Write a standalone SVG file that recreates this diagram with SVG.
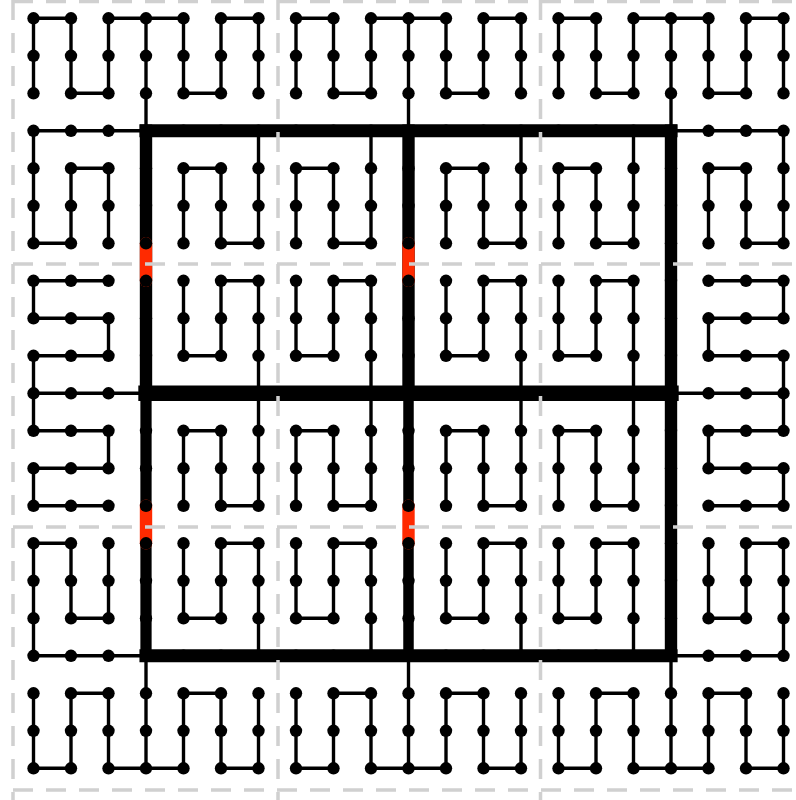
<svg xmlns="http://www.w3.org/2000/svg" width="796" height="800" viewBox="0 0 796 800">
<style>
.thick line{stroke:#000;fill:none;stroke-linecap:square}
.red line{stroke:#ff2a00;stroke-width:.33;stroke-linecap:round}
.thin polyline{fill:none;stroke:#000;stroke-width:.09;stroke-linejoin:round;stroke-linecap:round}
.nodes circle{fill:#000}
.grid line{stroke:#d0d0d0;stroke-width:3.5;stroke-dasharray:20 13}
</style>
<rect width="796" height="800" fill="#fff"/>
<g transform="translate(33.5,18.3) scale(37.5)">
<g id="connectors">
<g class="thick">
<line x1="3" y1="3" x2="17" y2="3" stroke-width=".35"/>
<line x1="3" y1="17" x2="17" y2="17" stroke-width=".35"/>
<line x1="3" y1="10" x2="17" y2="10" stroke-width=".41"/>
<line x1="17" y1="3" x2="17" y2="17" stroke-width=".33"/>
<line x1="3" y1="3" x2="3" y2="10" stroke-width=".33"/>
<line x1="3" y1="10" x2="3" y2="17" stroke-width=".3"/>
<line x1="10" y1="3" x2="10" y2="10" stroke-width=".33"/>
<line x1="10" y1="10" x2="10" y2="17" stroke-width=".28"/>
</g>
<g class="red">
<line x1="3" y1="6" x2="3" y2="7"/>
<line x1="3" y1="13" x2="3" y2="14"/>
<line x1="10" y1="6" x2="10" y2="7"/>
<line x1="10" y1="13" x2="10" y2="14"/>
</g>
<g class="thin">
<polyline points="0,2 0,0 1,0 1,2 2,2 2,0 4,0 4,2 5,2 5,0 6,0 6,2"/>
<polyline points="3,0 3,3"/>
<polyline points="3,3 0,3 0,6 1,6 1,4 2,4 2,6"/>
<polyline points="6,3 6,6 5,6 5,4 4,4 4,6"/>
<polyline points="7,2 7,0 8,0 8,2 9,2 9,0 11,0 11,2 12,2 12,0 13,0 13,2"/>
<polyline points="10,0 10,3"/>
<polyline points="9,3 9,6 8,6 8,4 7,4 7,6"/>
<polyline points="13,3 13,6 12,6 12,4 11,4 11,6"/>
<polyline points="14,2 14,0 15,0 15,2 16,2 16,0 18,0 18,2 19,2 19,0 20,0 20,2"/>
<polyline points="17,0 17,3"/>
<polyline points="17,3 20,3 20,6 19,6 19,4 18,4 18,6"/>
<polyline points="16,3 16,6 15,6 15,4 14,4 14,6"/>
<polyline points="2,7 0,7 0,8 2,8 2,9 0,9 0,11 2,11 2,12 0,12 0,13 2,13"/>
<polyline points="0,10 3,10"/>
<polyline points="4,7 4,9 5,9 5,7 6,7 6,13 5,13 5,11 4,11 4,13"/>
<polyline points="7,7 7,9 8,9 8,7 9,7 9,13 8,13 8,11 7,11 7,13"/>
<polyline points="11,7 11,9 12,9 12,7 13,7 13,13 12,13 12,11 11,11 11,13"/>
<polyline points="14,7 14,9 15,9 15,7 16,7 16,13 15,13 15,11 14,11 14,13"/>
<polyline points="17,10 20,10"/>
<polyline points="18,7 20,7 20,8 18,8 18,9 20,9 20,11 18,11 18,12 20,12 20,13 18,13"/>
<polyline points="2,14 2,16 1,16 1,14 0,14 0,17 3,17"/>
<polyline points="4,14 4,16 5,16 5,14 6,14 6,17"/>
<polyline points="3,17 3,20"/>
<polyline points="0,18 0,20 1,20 1,18 2,18 2,20 4,20 4,18 5,18 5,20 6,20 6,18"/>
<polyline points="7,14 7,16 8,16 8,14 9,14 9,17"/>
<polyline points="11,14 11,16 12,16 12,14 13,14 13,17"/>
<polyline points="10,17 10,20"/>
<polyline points="7,18 7,20 8,20 8,18 9,18 9,20 11,20 11,18 12,18 12,20 13,20 13,18"/>
<polyline points="14,14 14,16 15,16 15,14 16,14 16,17"/>
<polyline points="18,14 18,16 19,16 19,14 20,14 20,17 17,17"/>
<polyline points="17,17 17,20"/>
<polyline points="14,18 14,20 15,20 15,18 16,18 16,20 18,20 18,18 19,18 19,20 20,20 20,18"/>
</g>
</g>
<g class="nodes">
<g id="n0_0"><circle cx="0" cy="0" r=".165"/></g><g id="n1_0"><circle cx="1" cy="0" r=".165"/></g><g id="n2_0"><circle cx="2" cy="0" r=".165"/></g><g id="n3_0"><circle cx="3" cy="0" r=".165"/></g><g id="n4_0"><circle cx="4" cy="0" r=".165"/></g><g id="n5_0"><circle cx="5" cy="0" r=".165"/></g><g id="n6_0"><circle cx="6" cy="0" r=".165"/></g><g id="n7_0"><circle cx="7" cy="0" r=".165"/></g><g id="n8_0"><circle cx="8" cy="0" r=".165"/></g><g id="n9_0"><circle cx="9" cy="0" r=".165"/></g><g id="n10_0"><circle cx="10" cy="0" r=".165"/></g><g id="n11_0"><circle cx="11" cy="0" r=".165"/></g><g id="n12_0"><circle cx="12" cy="0" r=".165"/></g><g id="n13_0"><circle cx="13" cy="0" r=".165"/></g><g id="n14_0"><circle cx="14" cy="0" r=".165"/></g><g id="n15_0"><circle cx="15" cy="0" r=".165"/></g><g id="n16_0"><circle cx="16" cy="0" r=".165"/></g><g id="n17_0"><circle cx="17" cy="0" r=".165"/></g><g id="n18_0"><circle cx="18" cy="0" r=".165"/></g><g id="n19_0"><circle cx="19" cy="0" r=".165"/></g><g id="n20_0"><circle cx="20" cy="0" r=".165"/></g>
<g id="n0_1"><circle cx="0" cy="1" r=".165"/></g><g id="n1_1"><circle cx="1" cy="1" r=".165"/></g><g id="n2_1"><circle cx="2" cy="1" r=".165"/></g><g id="n3_1"><circle cx="3" cy="1" r=".165"/></g><g id="n4_1"><circle cx="4" cy="1" r=".165"/></g><g id="n5_1"><circle cx="5" cy="1" r=".165"/></g><g id="n6_1"><circle cx="6" cy="1" r=".165"/></g><g id="n7_1"><circle cx="7" cy="1" r=".165"/></g><g id="n8_1"><circle cx="8" cy="1" r=".165"/></g><g id="n9_1"><circle cx="9" cy="1" r=".165"/></g><g id="n10_1"><circle cx="10" cy="1" r=".165"/></g><g id="n11_1"><circle cx="11" cy="1" r=".165"/></g><g id="n12_1"><circle cx="12" cy="1" r=".165"/></g><g id="n13_1"><circle cx="13" cy="1" r=".165"/></g><g id="n14_1"><circle cx="14" cy="1" r=".165"/></g><g id="n15_1"><circle cx="15" cy="1" r=".165"/></g><g id="n16_1"><circle cx="16" cy="1" r=".165"/></g><g id="n17_1"><circle cx="17" cy="1" r=".165"/></g><g id="n18_1"><circle cx="18" cy="1" r=".165"/></g><g id="n19_1"><circle cx="19" cy="1" r=".165"/></g><g id="n20_1"><circle cx="20" cy="1" r=".165"/></g>
<g id="n0_2"><circle cx="0" cy="2" r=".165"/></g><g id="n1_2"><circle cx="1" cy="2" r=".165"/></g><g id="n2_2"><circle cx="2" cy="2" r=".165"/></g><g id="n3_2"><circle cx="3" cy="2" r=".165"/></g><g id="n4_2"><circle cx="4" cy="2" r=".165"/></g><g id="n5_2"><circle cx="5" cy="2" r=".165"/></g><g id="n6_2"><circle cx="6" cy="2" r=".165"/></g><g id="n7_2"><circle cx="7" cy="2" r=".165"/></g><g id="n8_2"><circle cx="8" cy="2" r=".165"/></g><g id="n9_2"><circle cx="9" cy="2" r=".165"/></g><g id="n10_2"><circle cx="10" cy="2" r=".165"/></g><g id="n11_2"><circle cx="11" cy="2" r=".165"/></g><g id="n12_2"><circle cx="12" cy="2" r=".165"/></g><g id="n13_2"><circle cx="13" cy="2" r=".165"/></g><g id="n14_2"><circle cx="14" cy="2" r=".165"/></g><g id="n15_2"><circle cx="15" cy="2" r=".165"/></g><g id="n16_2"><circle cx="16" cy="2" r=".165"/></g><g id="n17_2"><circle cx="17" cy="2" r=".165"/></g><g id="n18_2"><circle cx="18" cy="2" r=".165"/></g><g id="n19_2"><circle cx="19" cy="2" r=".165"/></g><g id="n20_2"><circle cx="20" cy="2" r=".165"/></g>
<g id="n0_3"><circle cx="0" cy="3" r=".165"/></g><g id="n1_3"><circle cx="1" cy="3" r=".165"/></g><g id="n2_3"><circle cx="2" cy="3" r=".165"/></g><g id="n3_3"><circle cx="3" cy="3" r=".165"/></g><g id="n4_3"><circle cx="4" cy="3" r=".165"/></g><g id="n5_3"><circle cx="5" cy="3" r=".165"/></g><g id="n6_3"><circle cx="6" cy="3" r=".165"/></g><g id="n7_3"><circle cx="7" cy="3" r=".165"/></g><g id="n8_3"><circle cx="8" cy="3" r=".165"/></g><g id="n9_3"><circle cx="9" cy="3" r=".165"/></g><g id="n10_3"><circle cx="10" cy="3" r=".165"/></g><g id="n11_3"><circle cx="11" cy="3" r=".165"/></g><g id="n12_3"><circle cx="12" cy="3" r=".165"/></g><g id="n13_3"><circle cx="13" cy="3" r=".165"/></g><g id="n14_3"><circle cx="14" cy="3" r=".165"/></g><g id="n15_3"><circle cx="15" cy="3" r=".165"/></g><g id="n16_3"><circle cx="16" cy="3" r=".165"/></g><g id="n17_3"><circle cx="17" cy="3" r=".165"/></g><g id="n18_3"><circle cx="18" cy="3" r=".165"/></g><g id="n19_3"><circle cx="19" cy="3" r=".165"/></g><g id="n20_3"><circle cx="20" cy="3" r=".165"/></g>
<g id="n0_4"><circle cx="0" cy="4" r=".165"/></g><g id="n1_4"><circle cx="1" cy="4" r=".165"/></g><g id="n2_4"><circle cx="2" cy="4" r=".165"/></g><g id="n3_4"><circle cx="3" cy="4" r=".165"/></g><g id="n4_4"><circle cx="4" cy="4" r=".165"/></g><g id="n5_4"><circle cx="5" cy="4" r=".165"/></g><g id="n6_4"><circle cx="6" cy="4" r=".165"/></g><g id="n7_4"><circle cx="7" cy="4" r=".165"/></g><g id="n8_4"><circle cx="8" cy="4" r=".165"/></g><g id="n9_4"><circle cx="9" cy="4" r=".165"/></g><g id="n10_4"><circle cx="10" cy="4" r=".165"/></g><g id="n11_4"><circle cx="11" cy="4" r=".165"/></g><g id="n12_4"><circle cx="12" cy="4" r=".165"/></g><g id="n13_4"><circle cx="13" cy="4" r=".165"/></g><g id="n14_4"><circle cx="14" cy="4" r=".165"/></g><g id="n15_4"><circle cx="15" cy="4" r=".165"/></g><g id="n16_4"><circle cx="16" cy="4" r=".165"/></g><g id="n17_4"><circle cx="17" cy="4" r=".165"/></g><g id="n18_4"><circle cx="18" cy="4" r=".165"/></g><g id="n19_4"><circle cx="19" cy="4" r=".165"/></g><g id="n20_4"><circle cx="20" cy="4" r=".165"/></g>
<g id="n0_5"><circle cx="0" cy="5" r=".165"/></g><g id="n1_5"><circle cx="1" cy="5" r=".165"/></g><g id="n2_5"><circle cx="2" cy="5" r=".165"/></g><g id="n3_5"><circle cx="3" cy="5" r=".165"/></g><g id="n4_5"><circle cx="4" cy="5" r=".165"/></g><g id="n5_5"><circle cx="5" cy="5" r=".165"/></g><g id="n6_5"><circle cx="6" cy="5" r=".165"/></g><g id="n7_5"><circle cx="7" cy="5" r=".165"/></g><g id="n8_5"><circle cx="8" cy="5" r=".165"/></g><g id="n9_5"><circle cx="9" cy="5" r=".165"/></g><g id="n10_5"><circle cx="10" cy="5" r=".165"/></g><g id="n11_5"><circle cx="11" cy="5" r=".165"/></g><g id="n12_5"><circle cx="12" cy="5" r=".165"/></g><g id="n13_5"><circle cx="13" cy="5" r=".165"/></g><g id="n14_5"><circle cx="14" cy="5" r=".165"/></g><g id="n15_5"><circle cx="15" cy="5" r=".165"/></g><g id="n16_5"><circle cx="16" cy="5" r=".165"/></g><g id="n17_5"><circle cx="17" cy="5" r=".165"/></g><g id="n18_5"><circle cx="18" cy="5" r=".165"/></g><g id="n19_5"><circle cx="19" cy="5" r=".165"/></g><g id="n20_5"><circle cx="20" cy="5" r=".165"/></g>
<g id="n0_6"><circle cx="0" cy="6" r=".165"/></g><g id="n1_6"><circle cx="1" cy="6" r=".165"/></g><g id="n2_6"><circle cx="2" cy="6" r=".165"/></g><g id="n3_6"><circle cx="3" cy="6" r=".165"/></g><g id="n4_6"><circle cx="4" cy="6" r=".165"/></g><g id="n5_6"><circle cx="5" cy="6" r=".165"/></g><g id="n6_6"><circle cx="6" cy="6" r=".165"/></g><g id="n7_6"><circle cx="7" cy="6" r=".165"/></g><g id="n8_6"><circle cx="8" cy="6" r=".165"/></g><g id="n9_6"><circle cx="9" cy="6" r=".165"/></g><g id="n10_6"><circle cx="10" cy="6" r=".165"/></g><g id="n11_6"><circle cx="11" cy="6" r=".165"/></g><g id="n12_6"><circle cx="12" cy="6" r=".165"/></g><g id="n13_6"><circle cx="13" cy="6" r=".165"/></g><g id="n14_6"><circle cx="14" cy="6" r=".165"/></g><g id="n15_6"><circle cx="15" cy="6" r=".165"/></g><g id="n16_6"><circle cx="16" cy="6" r=".165"/></g><g id="n17_6"><circle cx="17" cy="6" r=".165"/></g><g id="n18_6"><circle cx="18" cy="6" r=".165"/></g><g id="n19_6"><circle cx="19" cy="6" r=".165"/></g><g id="n20_6"><circle cx="20" cy="6" r=".165"/></g>
<g id="n0_7"><circle cx="0" cy="7" r=".165"/></g><g id="n1_7"><circle cx="1" cy="7" r=".165"/></g><g id="n2_7"><circle cx="2" cy="7" r=".165"/></g><g id="n3_7"><circle cx="3" cy="7" r=".165"/></g><g id="n4_7"><circle cx="4" cy="7" r=".165"/></g><g id="n5_7"><circle cx="5" cy="7" r=".165"/></g><g id="n6_7"><circle cx="6" cy="7" r=".165"/></g><g id="n7_7"><circle cx="7" cy="7" r=".165"/></g><g id="n8_7"><circle cx="8" cy="7" r=".165"/></g><g id="n9_7"><circle cx="9" cy="7" r=".165"/></g><g id="n10_7"><circle cx="10" cy="7" r=".165"/></g><g id="n11_7"><circle cx="11" cy="7" r=".165"/></g><g id="n12_7"><circle cx="12" cy="7" r=".165"/></g><g id="n13_7"><circle cx="13" cy="7" r=".165"/></g><g id="n14_7"><circle cx="14" cy="7" r=".165"/></g><g id="n15_7"><circle cx="15" cy="7" r=".165"/></g><g id="n16_7"><circle cx="16" cy="7" r=".165"/></g><g id="n17_7"><circle cx="17" cy="7" r=".165"/></g><g id="n18_7"><circle cx="18" cy="7" r=".165"/></g><g id="n19_7"><circle cx="19" cy="7" r=".165"/></g><g id="n20_7"><circle cx="20" cy="7" r=".165"/></g>
<g id="n0_8"><circle cx="0" cy="8" r=".165"/></g><g id="n1_8"><circle cx="1" cy="8" r=".165"/></g><g id="n2_8"><circle cx="2" cy="8" r=".165"/></g><g id="n3_8"><circle cx="3" cy="8" r=".165"/></g><g id="n4_8"><circle cx="4" cy="8" r=".165"/></g><g id="n5_8"><circle cx="5" cy="8" r=".165"/></g><g id="n6_8"><circle cx="6" cy="8" r=".165"/></g><g id="n7_8"><circle cx="7" cy="8" r=".165"/></g><g id="n8_8"><circle cx="8" cy="8" r=".165"/></g><g id="n9_8"><circle cx="9" cy="8" r=".165"/></g><g id="n10_8"><circle cx="10" cy="8" r=".165"/></g><g id="n11_8"><circle cx="11" cy="8" r=".165"/></g><g id="n12_8"><circle cx="12" cy="8" r=".165"/></g><g id="n13_8"><circle cx="13" cy="8" r=".165"/></g><g id="n14_8"><circle cx="14" cy="8" r=".165"/></g><g id="n15_8"><circle cx="15" cy="8" r=".165"/></g><g id="n16_8"><circle cx="16" cy="8" r=".165"/></g><g id="n17_8"><circle cx="17" cy="8" r=".165"/></g><g id="n18_8"><circle cx="18" cy="8" r=".165"/></g><g id="n19_8"><circle cx="19" cy="8" r=".165"/></g><g id="n20_8"><circle cx="20" cy="8" r=".165"/></g>
<g id="n0_9"><circle cx="0" cy="9" r=".165"/></g><g id="n1_9"><circle cx="1" cy="9" r=".165"/></g><g id="n2_9"><circle cx="2" cy="9" r=".165"/></g><g id="n3_9"><circle cx="3" cy="9" r=".165"/></g><g id="n4_9"><circle cx="4" cy="9" r=".165"/></g><g id="n5_9"><circle cx="5" cy="9" r=".165"/></g><g id="n6_9"><circle cx="6" cy="9" r=".165"/></g><g id="n7_9"><circle cx="7" cy="9" r=".165"/></g><g id="n8_9"><circle cx="8" cy="9" r=".165"/></g><g id="n9_9"><circle cx="9" cy="9" r=".165"/></g><g id="n10_9"><circle cx="10" cy="9" r=".165"/></g><g id="n11_9"><circle cx="11" cy="9" r=".165"/></g><g id="n12_9"><circle cx="12" cy="9" r=".165"/></g><g id="n13_9"><circle cx="13" cy="9" r=".165"/></g><g id="n14_9"><circle cx="14" cy="9" r=".165"/></g><g id="n15_9"><circle cx="15" cy="9" r=".165"/></g><g id="n16_9"><circle cx="16" cy="9" r=".165"/></g><g id="n17_9"><circle cx="17" cy="9" r=".165"/></g><g id="n18_9"><circle cx="18" cy="9" r=".165"/></g><g id="n19_9"><circle cx="19" cy="9" r=".165"/></g><g id="n20_9"><circle cx="20" cy="9" r=".165"/></g>
<g id="n0_10"><circle cx="0" cy="10" r=".165"/></g><g id="n1_10"><circle cx="1" cy="10" r=".165"/></g><g id="n2_10"><circle cx="2" cy="10" r=".165"/></g><g id="n3_10"><circle cx="3" cy="10" r=".165"/></g><g id="n4_10"><circle cx="4" cy="10" r=".165"/></g><g id="n5_10"><circle cx="5" cy="10" r=".165"/></g><g id="n6_10"><circle cx="6" cy="10" r=".165"/></g><g id="n7_10"><circle cx="7" cy="10" r=".165"/></g><g id="n8_10"><circle cx="8" cy="10" r=".165"/></g><g id="n9_10"><circle cx="9" cy="10" r=".165"/></g><g id="n10_10"><circle cx="10" cy="10" r=".165"/></g><g id="n11_10"><circle cx="11" cy="10" r=".165"/></g><g id="n12_10"><circle cx="12" cy="10" r=".165"/></g><g id="n13_10"><circle cx="13" cy="10" r=".165"/></g><g id="n14_10"><circle cx="14" cy="10" r=".165"/></g><g id="n15_10"><circle cx="15" cy="10" r=".165"/></g><g id="n16_10"><circle cx="16" cy="10" r=".165"/></g><g id="n17_10"><circle cx="17" cy="10" r=".165"/></g><g id="n18_10"><circle cx="18" cy="10" r=".165"/></g><g id="n19_10"><circle cx="19" cy="10" r=".165"/></g><g id="n20_10"><circle cx="20" cy="10" r=".165"/></g>
<g id="n0_11"><circle cx="0" cy="11" r=".165"/></g><g id="n1_11"><circle cx="1" cy="11" r=".165"/></g><g id="n2_11"><circle cx="2" cy="11" r=".165"/></g><g id="n3_11"><circle cx="3" cy="11" r=".165"/></g><g id="n4_11"><circle cx="4" cy="11" r=".165"/></g><g id="n5_11"><circle cx="5" cy="11" r=".165"/></g><g id="n6_11"><circle cx="6" cy="11" r=".165"/></g><g id="n7_11"><circle cx="7" cy="11" r=".165"/></g><g id="n8_11"><circle cx="8" cy="11" r=".165"/></g><g id="n9_11"><circle cx="9" cy="11" r=".165"/></g><g id="n10_11"><circle cx="10" cy="11" r=".165"/></g><g id="n11_11"><circle cx="11" cy="11" r=".165"/></g><g id="n12_11"><circle cx="12" cy="11" r=".165"/></g><g id="n13_11"><circle cx="13" cy="11" r=".165"/></g><g id="n14_11"><circle cx="14" cy="11" r=".165"/></g><g id="n15_11"><circle cx="15" cy="11" r=".165"/></g><g id="n16_11"><circle cx="16" cy="11" r=".165"/></g><g id="n17_11"><circle cx="17" cy="11" r=".165"/></g><g id="n18_11"><circle cx="18" cy="11" r=".165"/></g><g id="n19_11"><circle cx="19" cy="11" r=".165"/></g><g id="n20_11"><circle cx="20" cy="11" r=".165"/></g>
<g id="n0_12"><circle cx="0" cy="12" r=".165"/></g><g id="n1_12"><circle cx="1" cy="12" r=".165"/></g><g id="n2_12"><circle cx="2" cy="12" r=".165"/></g><g id="n3_12"><circle cx="3" cy="12" r=".165"/></g><g id="n4_12"><circle cx="4" cy="12" r=".165"/></g><g id="n5_12"><circle cx="5" cy="12" r=".165"/></g><g id="n6_12"><circle cx="6" cy="12" r=".165"/></g><g id="n7_12"><circle cx="7" cy="12" r=".165"/></g><g id="n8_12"><circle cx="8" cy="12" r=".165"/></g><g id="n9_12"><circle cx="9" cy="12" r=".165"/></g><g id="n10_12"><circle cx="10" cy="12" r=".165"/></g><g id="n11_12"><circle cx="11" cy="12" r=".165"/></g><g id="n12_12"><circle cx="12" cy="12" r=".165"/></g><g id="n13_12"><circle cx="13" cy="12" r=".165"/></g><g id="n14_12"><circle cx="14" cy="12" r=".165"/></g><g id="n15_12"><circle cx="15" cy="12" r=".165"/></g><g id="n16_12"><circle cx="16" cy="12" r=".165"/></g><g id="n17_12"><circle cx="17" cy="12" r=".165"/></g><g id="n18_12"><circle cx="18" cy="12" r=".165"/></g><g id="n19_12"><circle cx="19" cy="12" r=".165"/></g><g id="n20_12"><circle cx="20" cy="12" r=".165"/></g>
<g id="n0_13"><circle cx="0" cy="13" r=".165"/></g><g id="n1_13"><circle cx="1" cy="13" r=".165"/></g><g id="n2_13"><circle cx="2" cy="13" r=".165"/></g><g id="n3_13"><circle cx="3" cy="13" r=".165"/></g><g id="n4_13"><circle cx="4" cy="13" r=".165"/></g><g id="n5_13"><circle cx="5" cy="13" r=".165"/></g><g id="n6_13"><circle cx="6" cy="13" r=".165"/></g><g id="n7_13"><circle cx="7" cy="13" r=".165"/></g><g id="n8_13"><circle cx="8" cy="13" r=".165"/></g><g id="n9_13"><circle cx="9" cy="13" r=".165"/></g><g id="n10_13"><circle cx="10" cy="13" r=".165"/></g><g id="n11_13"><circle cx="11" cy="13" r=".165"/></g><g id="n12_13"><circle cx="12" cy="13" r=".165"/></g><g id="n13_13"><circle cx="13" cy="13" r=".165"/></g><g id="n14_13"><circle cx="14" cy="13" r=".165"/></g><g id="n15_13"><circle cx="15" cy="13" r=".165"/></g><g id="n16_13"><circle cx="16" cy="13" r=".165"/></g><g id="n17_13"><circle cx="17" cy="13" r=".165"/></g><g id="n18_13"><circle cx="18" cy="13" r=".165"/></g><g id="n19_13"><circle cx="19" cy="13" r=".165"/></g><g id="n20_13"><circle cx="20" cy="13" r=".165"/></g>
<g id="n0_14"><circle cx="0" cy="14" r=".165"/></g><g id="n1_14"><circle cx="1" cy="14" r=".165"/></g><g id="n2_14"><circle cx="2" cy="14" r=".165"/></g><g id="n3_14"><circle cx="3" cy="14" r=".165"/></g><g id="n4_14"><circle cx="4" cy="14" r=".165"/></g><g id="n5_14"><circle cx="5" cy="14" r=".165"/></g><g id="n6_14"><circle cx="6" cy="14" r=".165"/></g><g id="n7_14"><circle cx="7" cy="14" r=".165"/></g><g id="n8_14"><circle cx="8" cy="14" r=".165"/></g><g id="n9_14"><circle cx="9" cy="14" r=".165"/></g><g id="n10_14"><circle cx="10" cy="14" r=".165"/></g><g id="n11_14"><circle cx="11" cy="14" r=".165"/></g><g id="n12_14"><circle cx="12" cy="14" r=".165"/></g><g id="n13_14"><circle cx="13" cy="14" r=".165"/></g><g id="n14_14"><circle cx="14" cy="14" r=".165"/></g><g id="n15_14"><circle cx="15" cy="14" r=".165"/></g><g id="n16_14"><circle cx="16" cy="14" r=".165"/></g><g id="n17_14"><circle cx="17" cy="14" r=".165"/></g><g id="n18_14"><circle cx="18" cy="14" r=".165"/></g><g id="n19_14"><circle cx="19" cy="14" r=".165"/></g><g id="n20_14"><circle cx="20" cy="14" r=".165"/></g>
<g id="n0_15"><circle cx="0" cy="15" r=".165"/></g><g id="n1_15"><circle cx="1" cy="15" r=".165"/></g><g id="n2_15"><circle cx="2" cy="15" r=".165"/></g><g id="n3_15"><circle cx="3" cy="15" r=".165"/></g><g id="n4_15"><circle cx="4" cy="15" r=".165"/></g><g id="n5_15"><circle cx="5" cy="15" r=".165"/></g><g id="n6_15"><circle cx="6" cy="15" r=".165"/></g><g id="n7_15"><circle cx="7" cy="15" r=".165"/></g><g id="n8_15"><circle cx="8" cy="15" r=".165"/></g><g id="n9_15"><circle cx="9" cy="15" r=".165"/></g><g id="n10_15"><circle cx="10" cy="15" r=".165"/></g><g id="n11_15"><circle cx="11" cy="15" r=".165"/></g><g id="n12_15"><circle cx="12" cy="15" r=".165"/></g><g id="n13_15"><circle cx="13" cy="15" r=".165"/></g><g id="n14_15"><circle cx="14" cy="15" r=".165"/></g><g id="n15_15"><circle cx="15" cy="15" r=".165"/></g><g id="n16_15"><circle cx="16" cy="15" r=".165"/></g><g id="n17_15"><circle cx="17" cy="15" r=".165"/></g><g id="n18_15"><circle cx="18" cy="15" r=".165"/></g><g id="n19_15"><circle cx="19" cy="15" r=".165"/></g><g id="n20_15"><circle cx="20" cy="15" r=".165"/></g>
<g id="n0_16"><circle cx="0" cy="16" r=".165"/></g><g id="n1_16"><circle cx="1" cy="16" r=".165"/></g><g id="n2_16"><circle cx="2" cy="16" r=".165"/></g><g id="n3_16"><circle cx="3" cy="16" r=".165"/></g><g id="n4_16"><circle cx="4" cy="16" r=".165"/></g><g id="n5_16"><circle cx="5" cy="16" r=".165"/></g><g id="n6_16"><circle cx="6" cy="16" r=".165"/></g><g id="n7_16"><circle cx="7" cy="16" r=".165"/></g><g id="n8_16"><circle cx="8" cy="16" r=".165"/></g><g id="n9_16"><circle cx="9" cy="16" r=".165"/></g><g id="n10_16"><circle cx="10" cy="16" r=".165"/></g><g id="n11_16"><circle cx="11" cy="16" r=".165"/></g><g id="n12_16"><circle cx="12" cy="16" r=".165"/></g><g id="n13_16"><circle cx="13" cy="16" r=".165"/></g><g id="n14_16"><circle cx="14" cy="16" r=".165"/></g><g id="n15_16"><circle cx="15" cy="16" r=".165"/></g><g id="n16_16"><circle cx="16" cy="16" r=".165"/></g><g id="n17_16"><circle cx="17" cy="16" r=".165"/></g><g id="n18_16"><circle cx="18" cy="16" r=".165"/></g><g id="n19_16"><circle cx="19" cy="16" r=".165"/></g><g id="n20_16"><circle cx="20" cy="16" r=".165"/></g>
<g id="n0_17"><circle cx="0" cy="17" r=".165"/></g><g id="n1_17"><circle cx="1" cy="17" r=".165"/></g><g id="n2_17"><circle cx="2" cy="17" r=".165"/></g><g id="n3_17"><circle cx="3" cy="17" r=".165"/></g><g id="n4_17"><circle cx="4" cy="17" r=".165"/></g><g id="n5_17"><circle cx="5" cy="17" r=".165"/></g><g id="n6_17"><circle cx="6" cy="17" r=".165"/></g><g id="n7_17"><circle cx="7" cy="17" r=".165"/></g><g id="n8_17"><circle cx="8" cy="17" r=".165"/></g><g id="n9_17"><circle cx="9" cy="17" r=".165"/></g><g id="n10_17"><circle cx="10" cy="17" r=".165"/></g><g id="n11_17"><circle cx="11" cy="17" r=".165"/></g><g id="n12_17"><circle cx="12" cy="17" r=".165"/></g><g id="n13_17"><circle cx="13" cy="17" r=".165"/></g><g id="n14_17"><circle cx="14" cy="17" r=".165"/></g><g id="n15_17"><circle cx="15" cy="17" r=".165"/></g><g id="n16_17"><circle cx="16" cy="17" r=".165"/></g><g id="n17_17"><circle cx="17" cy="17" r=".165"/></g><g id="n18_17"><circle cx="18" cy="17" r=".165"/></g><g id="n19_17"><circle cx="19" cy="17" r=".165"/></g><g id="n20_17"><circle cx="20" cy="17" r=".165"/></g>
<g id="n0_18"><circle cx="0" cy="18" r=".165"/></g><g id="n1_18"><circle cx="1" cy="18" r=".165"/></g><g id="n2_18"><circle cx="2" cy="18" r=".165"/></g><g id="n3_18"><circle cx="3" cy="18" r=".165"/></g><g id="n4_18"><circle cx="4" cy="18" r=".165"/></g><g id="n5_18"><circle cx="5" cy="18" r=".165"/></g><g id="n6_18"><circle cx="6" cy="18" r=".165"/></g><g id="n7_18"><circle cx="7" cy="18" r=".165"/></g><g id="n8_18"><circle cx="8" cy="18" r=".165"/></g><g id="n9_18"><circle cx="9" cy="18" r=".165"/></g><g id="n10_18"><circle cx="10" cy="18" r=".165"/></g><g id="n11_18"><circle cx="11" cy="18" r=".165"/></g><g id="n12_18"><circle cx="12" cy="18" r=".165"/></g><g id="n13_18"><circle cx="13" cy="18" r=".165"/></g><g id="n14_18"><circle cx="14" cy="18" r=".165"/></g><g id="n15_18"><circle cx="15" cy="18" r=".165"/></g><g id="n16_18"><circle cx="16" cy="18" r=".165"/></g><g id="n17_18"><circle cx="17" cy="18" r=".165"/></g><g id="n18_18"><circle cx="18" cy="18" r=".165"/></g><g id="n19_18"><circle cx="19" cy="18" r=".165"/></g><g id="n20_18"><circle cx="20" cy="18" r=".165"/></g>
<g id="n0_19"><circle cx="0" cy="19" r=".165"/></g><g id="n1_19"><circle cx="1" cy="19" r=".165"/></g><g id="n2_19"><circle cx="2" cy="19" r=".165"/></g><g id="n3_19"><circle cx="3" cy="19" r=".165"/></g><g id="n4_19"><circle cx="4" cy="19" r=".165"/></g><g id="n5_19"><circle cx="5" cy="19" r=".165"/></g><g id="n6_19"><circle cx="6" cy="19" r=".165"/></g><g id="n7_19"><circle cx="7" cy="19" r=".165"/></g><g id="n8_19"><circle cx="8" cy="19" r=".165"/></g><g id="n9_19"><circle cx="9" cy="19" r=".165"/></g><g id="n10_19"><circle cx="10" cy="19" r=".165"/></g><g id="n11_19"><circle cx="11" cy="19" r=".165"/></g><g id="n12_19"><circle cx="12" cy="19" r=".165"/></g><g id="n13_19"><circle cx="13" cy="19" r=".165"/></g><g id="n14_19"><circle cx="14" cy="19" r=".165"/></g><g id="n15_19"><circle cx="15" cy="19" r=".165"/></g><g id="n16_19"><circle cx="16" cy="19" r=".165"/></g><g id="n17_19"><circle cx="17" cy="19" r=".165"/></g><g id="n18_19"><circle cx="18" cy="19" r=".165"/></g><g id="n19_19"><circle cx="19" cy="19" r=".165"/></g><g id="n20_19"><circle cx="20" cy="19" r=".165"/></g>
<g id="n0_20"><circle cx="0" cy="20" r=".165"/></g><g id="n1_20"><circle cx="1" cy="20" r=".165"/></g><g id="n2_20"><circle cx="2" cy="20" r=".165"/></g><g id="n3_20"><circle cx="3" cy="20" r=".165"/></g><g id="n4_20"><circle cx="4" cy="20" r=".165"/></g><g id="n5_20"><circle cx="5" cy="20" r=".165"/></g><g id="n6_20"><circle cx="6" cy="20" r=".165"/></g><g id="n7_20"><circle cx="7" cy="20" r=".165"/></g><g id="n8_20"><circle cx="8" cy="20" r=".165"/></g><g id="n9_20"><circle cx="9" cy="20" r=".165"/></g><g id="n10_20"><circle cx="10" cy="20" r=".165"/></g><g id="n11_20"><circle cx="11" cy="20" r=".165"/></g><g id="n12_20"><circle cx="12" cy="20" r=".165"/></g><g id="n13_20"><circle cx="13" cy="20" r=".165"/></g><g id="n14_20"><circle cx="14" cy="20" r=".165"/></g><g id="n15_20"><circle cx="15" cy="20" r=".165"/></g><g id="n16_20"><circle cx="16" cy="20" r=".165"/></g><g id="n17_20"><circle cx="17" cy="20" r=".165"/></g><g id="n18_20"><circle cx="18" cy="20" r=".165"/></g><g id="n19_20"><circle cx="19" cy="20" r=".165"/></g><g id="n20_20"><circle cx="20" cy="20" r=".165"/></g>
</g>
</g>
<g class="grid">
<line x1="13" y1="0" x2="13" y2="800"/>
<line x1="278" y1="0" x2="278" y2="800"/>
<line x1="540.5" y1="0" x2="540.5" y2="800"/>
<line x1="13" y1="1.5" x2="796" y2="1.5"/>
<line x1="13" y1="264" x2="796" y2="264"/>
<line x1="13" y1="527" x2="796" y2="527"/>
<line x1="13" y1="790" x2="796" y2="790"/>
</g>
</svg>
